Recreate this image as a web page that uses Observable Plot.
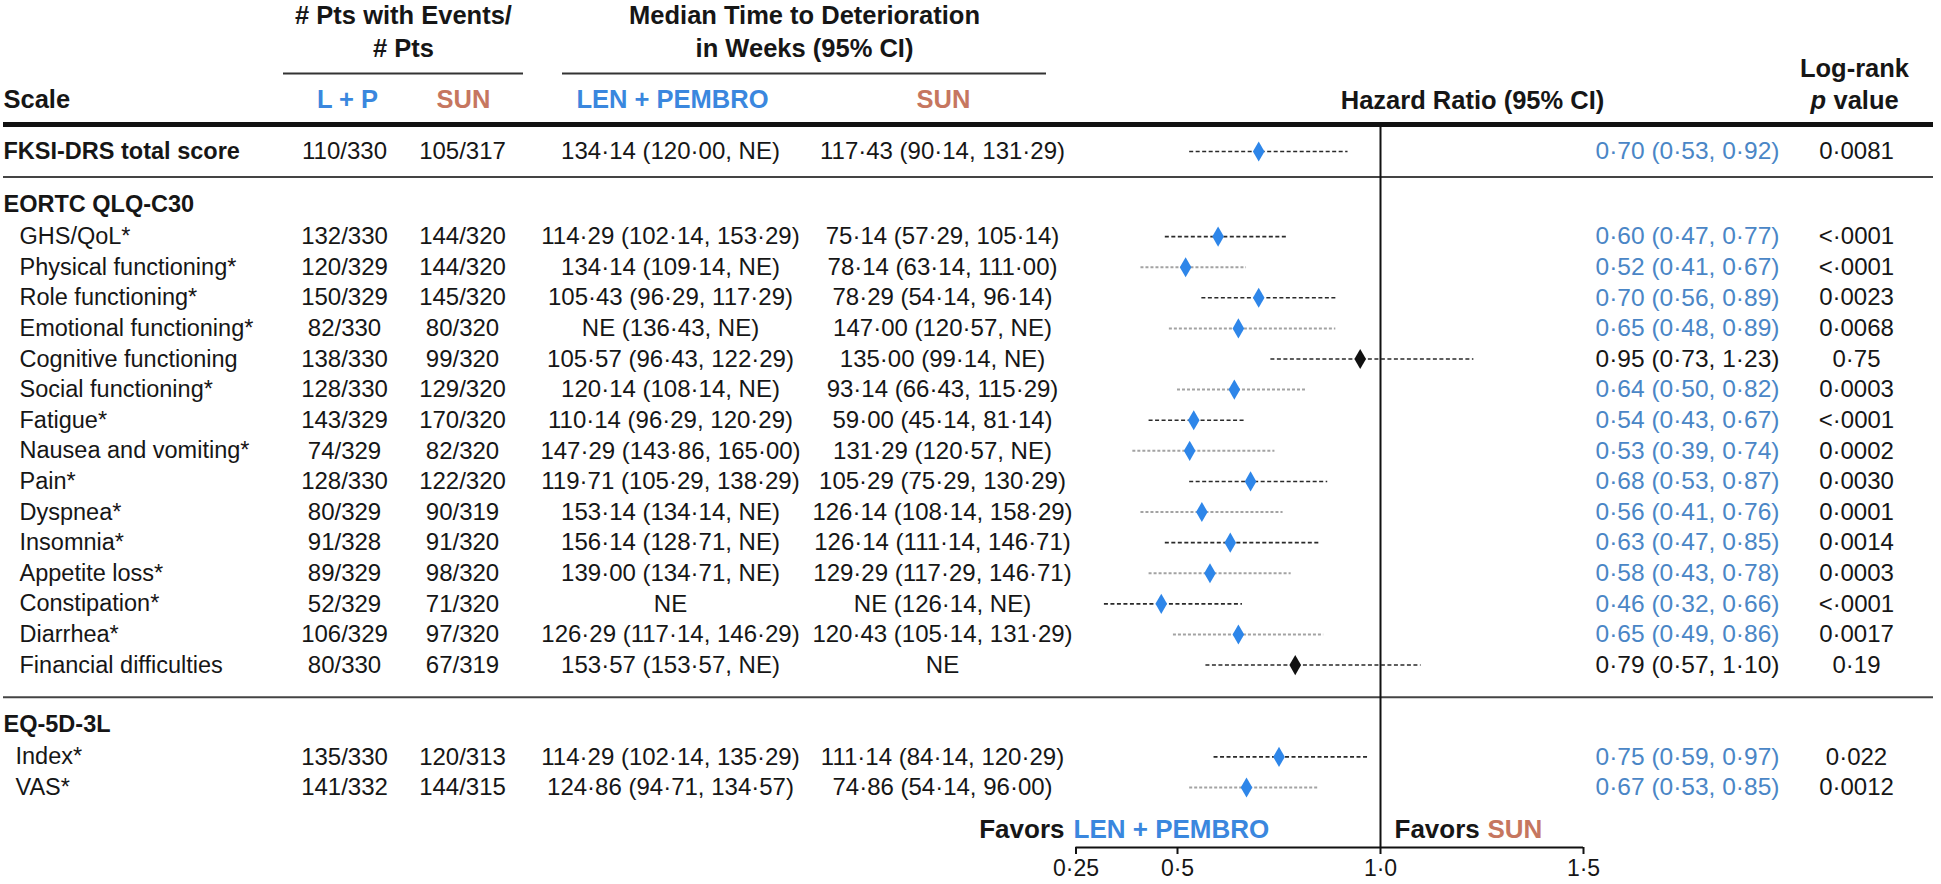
<!DOCTYPE html>
<html>
<head>
<meta charset="utf-8">
<script src="https://cdn.jsdelivr.net/npm/d3@7"></script>
<script src="https://cdn.jsdelivr.net/npm/@observablehq/plot@0.6"></script>
<style>
  html, body { margin: 0; padding: 0; background: #ffffff; }
  #chart svg { display: block; }
</style>
</head>
<body>
<div id="chart"></div>
<script>
// ---------------- DATA ----------------
const scaleNames = [
  "FKSI-DRS total score",
  "GHS/QoL*", "Physical functioning*", "Role functioning*", "Emotional functioning*",
  "Cognitive functioning", "Social functioning*", "Fatigue*", "Nausea and vomiting*",
  "Pain*", "Dyspnea*", "Insomnia*", "Appetite loss*", "Constipation*", "Diarrhea*",
  "Financial difficulties",
  "Index*", "VAS*"
];
const scaleSection = [
  "",
  "EORTC QLQ-C30", "EORTC QLQ-C30", "EORTC QLQ-C30", "EORTC QLQ-C30",
  "EORTC QLQ-C30", "EORTC QLQ-C30", "EORTC QLQ-C30", "EORTC QLQ-C30",
  "EORTC QLQ-C30", "EORTC QLQ-C30", "EORTC QLQ-C30", "EORTC QLQ-C30", "EORTC QLQ-C30", "EORTC QLQ-C30",
  "EORTC QLQ-C30",
  "EQ-5D-3L", "EQ-5D-3L"
];
const eventsLP = ["110/330","132/330","120/329","150/329","82/330","138/330","128/330","143/329","74/329","128/330","80/329","91/328","89/329","52/329","106/329","80/330","135/330","141/332"];
const eventsSUN = ["105/317","144/320","144/320","145/320","80/320","99/320","129/320","170/320","82/320","122/320","90/319","91/320","98/320","71/320","97/320","67/319","120/313","144/315"];
const medianLP = [
  "134·14 (120·00, NE)", "114·29 (102·14, 153·29)", "134·14 (109·14, NE)", "105·43 (96·29, 117·29)",
  "NE (136·43, NE)", "105·57 (96·43, 122·29)", "120·14 (108·14, NE)", "110·14 (96·29, 120·29)",
  "147·29 (143·86, 165·00)", "119·71 (105·29, 138·29)", "153·14 (134·14, NE)", "156·14 (128·71, NE)",
  "139·00 (134·71, NE)", "NE", "126·29 (117·14, 146·29)", "153·57 (153·57, NE)",
  "114·29 (102·14, 135·29)", "124·86 (94·71, 134·57)"
];
const medianSUN = [
  "117·43 (90·14, 131·29)", "75·14 (57·29, 105·14)", "78·14 (63·14, 111·00)", "78·29 (54·14, 96·14)",
  "147·00 (120·57, NE)", "135·00 (99·14, NE)", "93·14 (66·43, 115·29)", "59·00 (45·14, 81·14)",
  "131·29 (120·57, NE)", "105·29 (75·29, 130·29)", "126·14 (108·14, 158·29)", "126·14 (111·14, 146·71)",
  "129·29 (117·29, 146·71)", "NE (126·14, NE)", "120·43 (105·14, 131·29)", "NE",
  "111·14 (84·14, 120·29)", "74·86 (54·14, 96·00)"
];
const hazardRatio = [0.70, 0.60, 0.52, 0.70, 0.65, 0.95, 0.64, 0.54, 0.53, 0.68, 0.56, 0.63, 0.58, 0.46, 0.65, 0.79, 0.75, 0.67];
const hrLower     = [0.53, 0.47, 0.41, 0.56, 0.48, 0.73, 0.50, 0.43, 0.39, 0.53, 0.41, 0.47, 0.43, 0.32, 0.49, 0.57, 0.59, 0.53];
const hrUpper     = [0.92, 0.77, 0.67, 0.89, 0.89, 1.23, 0.82, 0.67, 0.74, 0.87, 0.76, 0.85, 0.78, 0.66, 0.86, 1.10, 0.97, 0.85];
const pValues = ["0·0081","<·0001","<·0001","0·0023","0·0068","0·75","0·0003","<·0001","0·0002","0·0030","0·0001","0·0014","0·0003","<·0001","0·0017","0·19","0·022","0·0012"];
const hrTicks = [0.25, 0.5, 1.0, 1.5];
const hrTickLabels = ["0·25", "0·5", "1·0", "1·5"];

// ---------------- STYLE ----------------
const BLUE_HEAD = "#3a87de";
const SALMON = "#c6765f";
const BLUE_DOT = "#2e86e9";
const BLUE_TXT = "#4a86c6";
const INK = "#161616";
const FONT = "'Liberation Sans', Arial, Helvetica, sans-serif";

// ---------------- LAYOUT (row units) ----------------
const LEAD_TO_HEAD = 1.73, HEAD_TO_ITEM = 1.05, SECTION_GAP = 1.95;
const rows = [], heads = [];
let pos = 0;
scaleNames.forEach((name, i) => {
  if (i > 0) {
    if (scaleSection[i] !== scaleSection[i - 1]) {
      pos += (scaleSection[i - 1] === "" ? LEAD_TO_HEAD : SECTION_GAP);
      heads.push({name: scaleSection[i], pos});
      pos += HEAD_TO_ITEM;
    } else pos += 1;
  }
  const sectionIndex = scaleSection.slice(0, i).filter(s => s === scaleSection[i]).length;
  rows.push({
    name, section: scaleSection[i], pos, k: sectionIndex,
    evLP: eventsLP[i], evSUN: eventsSUN[i], medLP: medianLP[i], medSUN: medianSUN[i],
    hr: hazardRatio[i], lo: hrLower[i], hi: hrUpper[i], p: pValues[i],
    hrText: `${hazardRatio[i].toFixed(2)} (${hrLower[i].toFixed(2)}, ${hrUpper[i].toFixed(2)})`.replace(/\./g, "·"),
    sig: hrUpper[i] < 1
  });
});
const lastPos = rows[rows.length - 1].pos;
const Y_TOP = 151, Y_BOT = 787;        // pixel range of first/last data row
const unitPx = (Y_BOT - Y_TOP) / lastPos;
const U = px => (px - Y_TOP) / unitPx; // pixel -> row units (for decorations)

const W = 1941, H = 884, ML = 3, MR = 8, MB = 37;
const AXIS_Y = U(H - MB);
const THICK_Y = U(124);

const colText = (data, field, xPx, opts = {}) =>
  Plot.text(data, {y: "pos", text: field, frameAnchor: "left", dx: xPx - ML, fontSize: 24, fill: INK, ...opts});
const label = (txt, xPx, yPx, opts = {}) =>
  Plot.text([txt], {text: d => d, y: () => U(yPx), frameAnchor: "left", dx: xPx - ML,
    fontSize: 25.5, fontWeight: "bold", fill: INK, textAnchor: "middle", ...opts});

const chart = Plot.plot({
  width: W, height: H,
  marginTop: 0, marginBottom: MB, marginLeft: ML, marginRight: MR,
  style: {fontFamily: FONT, background: "#ffffff", color: INK, overflow: "visible"},
  x: {type: "linear", domain: [0.25, 1.5], range: [1075.5, 1583]},
  y: {type: "linear", domain: [0, lastPos], range: [Y_TOP, Y_BOT], axis: null},
  color: {type: "identity"},
  marks: [
    // header texts
    label("# Pts with Events/", 403, 15),
    label("# Pts", 403, 48),
    label("Median Time to Deterioration", 804, 15),
    label("in Weeks (95% CI)", 804, 48),
    Plot.ruleY([U(73)], {stroke: "#333", strokeWidth: 2, insetLeft: 283 - ML, insetRight: (W - MR) - 523}),
    Plot.ruleY([U(73)], {stroke: "#333", strokeWidth: 2, insetLeft: 562 - ML, insetRight: (W - MR) - 1046}),
    label("Scale", 3, 99, {textAnchor: "start"}),
    label("L + P", 347, 99, {fill: BLUE_HEAD}),
    label("SUN", 463, 99, {fill: SALMON}),
    label("LEN + PEMBRO", 672, 99, {fill: BLUE_HEAD}),
    label("SUN", 943, 99, {fill: SALMON}),
    label("Hazard Ratio (95% CI)", 1472, 100),
    label("Log-rank", 1854, 68),
    label("p", 1810, 100, {textAnchor: "start", fontStyle: "italic"}),
    label("value", 1833, 100, {textAnchor: "start"}),

    // separators
    Plot.ruleY([THICK_Y], {stroke: "#111", strokeWidth: 5}),
    Plot.ruleY(heads, {y: d => d.pos - 0.9, stroke: "#444", strokeWidth: 2}),

    // section headers
    Plot.text(heads, {y: "pos", text: "name", frameAnchor: "left", dx: 0, fontSize: 23.5, fontWeight: "bold", fill: INK, textAnchor: "start"}),

    // row labels
    colText(rows.filter(d => d.section === ""), "name", 3, {textAnchor: "start", fontWeight: "bold", fontSize: 23.5}),
    colText(rows.filter(d => d.section === "EORTC QLQ-C30"), "name", 19, {textAnchor: "start", fontSize: 23.5}),
    colText(rows.filter(d => d.section === "EQ-5D-3L"), "name", 15, {textAnchor: "start", fontSize: 23.5}),

    // table columns
    colText(rows, "evLP", 344, {textAnchor: "middle"}),
    colText(rows, "evSUN", 462, {textAnchor: "middle"}),
    colText(rows, "medLP", 670, {textAnchor: "middle"}),
    colText(rows, "medSUN", 942, {textAnchor: "middle"}),
    colText(rows, "hrText", 1687, {textAnchor: "middle", fontSize: 24.5, fill: d => d.sig ? BLUE_TXT : INK}),
    colText(rows, "p", 1856, {textAnchor: "middle"}),

    // reference line at HR = 1
    Plot.ruleX([1], {y1: THICK_Y, y2: AXIS_Y, stroke: "#111", strokeWidth: 2}),

    // confidence intervals
    Plot.ruleY(rows.filter(d => d.k % 2 === 0), {y: "pos", x1: "lo", x2: "hi", stroke: "#2a2a2a", strokeWidth: 1.6, strokeDasharray: "4,2.5"}),
    Plot.ruleY(rows.filter(d => d.k % 2 === 1), {y: "pos", x1: "lo", x2: "hi", stroke: "#a3a3a3", strokeWidth: 2, strokeDasharray: "3,2"}),

    // point estimates
    Plot.dot(rows, {x: "hr", y: "pos", symbol: "diamond", r: 6.1, fill: d => d.sig ? BLUE_DOT : "#111", stroke: "none"}),

    // favors labels
    label("Favors", 1064, 829, {textAnchor: "end", fontSize: 26}),
    label("LEN + PEMBRO", 1073, 829, {textAnchor: "start", fontSize: 26, fill: BLUE_HEAD}),
    label("Favors", 1394, 829, {textAnchor: "start", fontSize: 26}),
    label("SUN", 1487, 829, {textAnchor: "start", fontSize: 26, fill: SALMON}),

    // axis
    Plot.ruleY([AXIS_Y], {x1: 0.25, x2: 1.5, stroke: "#111", strokeWidth: 2}),
    Plot.axisX({anchor: "bottom", ticks: hrTicks, tickFormat: d => hrTickLabels[hrTicks.indexOf(d)],
      tickSize: 7, tickPadding: 5, fontSize: 23, label: null, strokeWidth: 2, stroke: "#111", fill: INK})
  ]
});
document.getElementById("chart").append(chart);
</script>
</body>
</html>
